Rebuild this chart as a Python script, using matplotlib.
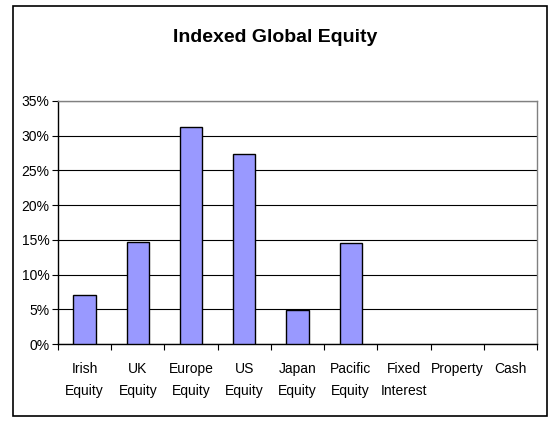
import matplotlib
matplotlib.use("Agg")
import matplotlib.pyplot as plt
from matplotlib.patches import Rectangle
from matplotlib import font_manager

categories = ["Irish\nEquity", "UK\nEquity", "Europe\nEquity", "US\nEquity", "Japan\nEquity",
              "Pacific\nEquity", "Fixed\nInterest", "Property", "Cash"]
values = [7.0, 14.7, 31.3, 27.4, 4.9, 14.6, 0, 0, 0]
yticks = [0, 5, 10, 15, 20, 25, 30, 35]
title = "Indexed Global Equity"

names = {f.name for f in font_manager.fontManager.ttflist}
fam = "Liberation Sans Narrow" if "Liberation Sans Narrow" in names else "Liberation Sans"
plt.rcParams["font.family"] = [fam, "DejaVu Sans"]

W, H = 549, 426
fig = plt.figure(figsize=(W / 100, H / 100), dpi=100)
fig.patch.set_facecolor("white")

# outer frame
fig.patches.append(Rectangle((13 / W, 1 - 416 / H), (547 - 13) / W, (416 - 6) / H,
                             transform=fig.transFigure, fill=False, edgecolor="black", lw=1.2))

ax = fig.add_axes([58 / W, 1 - 344 / H, (537 - 58) / W, (344 - 101) / H])
x = list(range(len(categories)))
edges = ["black" if v > 0 else "none" for v in values]
ax.bar(x, values, width=0.42, color="#9999FF",
       edgecolor=edges, linewidth=1.0, zorder=3)
ax.set_xlim(-0.5, len(categories) - 0.5)
ax.set_ylim(0, 35)
ax.set_yticks(yticks)
ax.set_yticklabels([f"{t}%" for t in yticks], fontsize=10)
ax.yaxis.grid(True, color="black", linewidth=0.8, zorder=0)
ax.set_axisbelow(True)

ax.set_xticks([i - 0.5 for i in range(len(categories) + 1)], minor=False)
ax.set_xticklabels([])
ax.set_xticks(x, minor=True)
ax.set_xticklabels(categories, minor=True, fontsize=10, linespacing=1.7)
ax.tick_params(axis="x", which="minor", length=0, pad=13)
ax.tick_params(axis="x", which="major", length=4, direction="out", color="black")
ax.tick_params(axis="y", length=4, direction="out", color="black", pad=2)

for s in ["top", "right"]:
    ax.spines[s].set_color("#808080")
    ax.spines[s].set_linewidth(1.0)
for s in ["left", "bottom"]:
    ax.spines[s].set_color("black")
    ax.spines[s].set_linewidth(1.0)

fig.text(275 / W, 1 - 38 / H, title, ha="center", va="center", fontsize=14, fontweight="bold")

fig.savefig("out.png", dpi=100)
